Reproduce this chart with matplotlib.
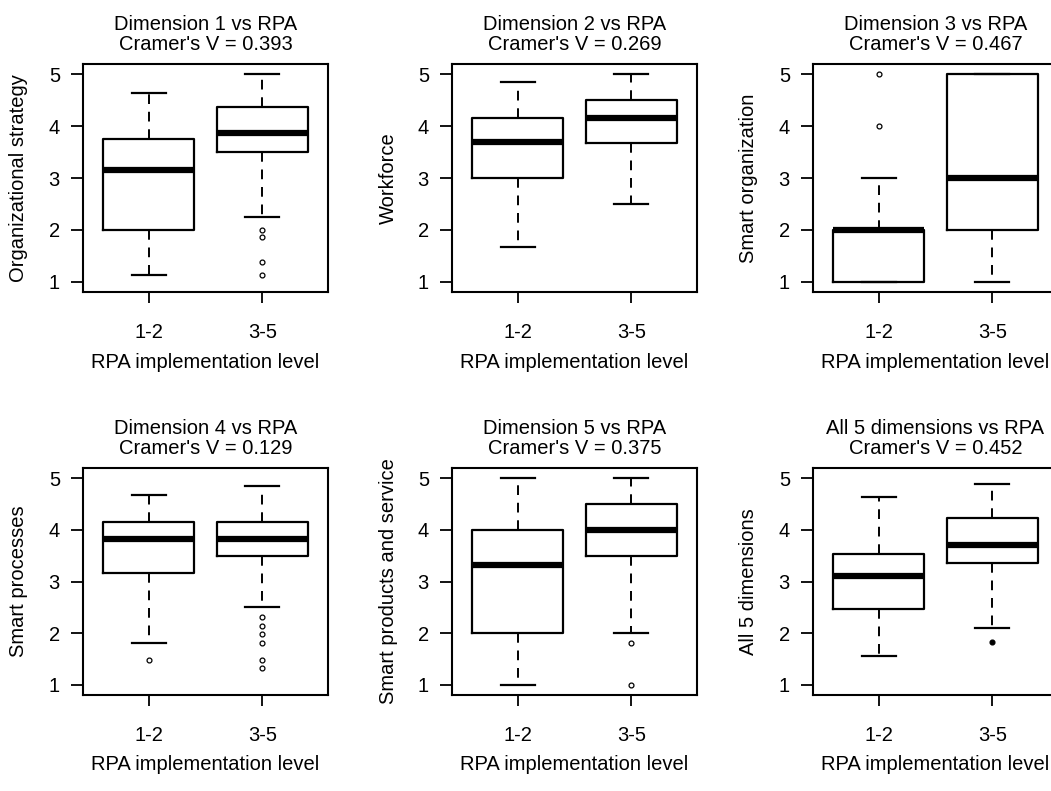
import numpy as np
import matplotlib

matplotlib.use("Agg")
import matplotlib.pyplot as plt

plt.rcParams["font.family"] = ["Liberation Sans", "DejaVu Sans"]

# ---- data ----
titles = ["Dimension 1 vs RPA", "Dimension 2 vs RPA", "Dimension 3 vs RPA",
          "Dimension 4 vs RPA", "Dimension 5 vs RPA", "All 5 dimensions vs RPA"]
cramers_v = [0.393, 0.269, 0.467, 0.129, 0.375, 0.452]
ylabels = ["Organizational strategy", "Workforce", "Smart organization",
           "Smart processes", "Smart products and service", "All 5 dimensions"]
groups = ["1-2", "3-5"]
xlabel = "RPA implementation level"

# per panel: [group 1-2, group 3-5]
whislo = [[1.12, 2.25], [1.66, 2.50], [1.00, 1.00],
          [1.81, 2.50], [1.00, 2.00], [1.56, 2.10]]
q1 = [[2.00, 3.50], [3.00, 3.68], [1.00, 2.00],
      [3.17, 3.50], [2.00, 3.50], [2.47, 3.36]]
med = [[3.15, 3.87], [3.69, 4.16], [2.00, 3.00],
       [3.82, 3.82], [3.32, 4.00], [3.10, 3.71]]
q3 = [[3.76, 4.375], [4.16, 4.50], [2.00, 5.00],
      [4.16, 4.16], [4.00, 4.50], [3.53, 4.24]]
whishi = [[4.64, 5.00], [4.86, 5.00], [3.00, 5.00],
          [4.68, 4.85], [5.00, 5.00], [4.63, 4.89]]
fliers = [[[], [2.00, 1.86, 1.375, 1.12]],
          [[], []],
          [[5.00, 4.00], []],
          [[1.47], [2.31, 2.14, 1.99, 1.81, 1.48, 1.33]],
          [[], [1.81, 1.00]],
          [[], [1.82]]]
# the single outlier in the last panel is drawn solid (overplotted points)
filled_fliers = [False, False, False, False, False, True]

# ---- layout in pixels (figure 1051 x 791) ----
W, H = 1051, 791
rows_px = [(64, 292), (468, 695)]
cols_px = [(83, 328), (452, 697), (813, 1058)]
FS = 14.5

fig = plt.figure(figsize=(W / 100, H / 100), dpi=100)

for k in range(6):
    r, c = divmod(k, 3)
    top, bot = rows_px[r]
    left, right = cols_px[c]
    ax = fig.add_axes([left / W, 1 - bot / H, (right - left) / W, (bot - top) / H])

    stats = []
    for g in range(2):
        stats.append(dict(med=med[k][g], q1=q1[k][g], q3=q3[k][g],
                          whislo=whislo[k][g], whishi=whishi[k][g],
                          fliers=fliers[k][g], label=groups[g]))
    face = "black" if filled_fliers[k] else "none"
    ax.bxp(stats, positions=[1, 2], widths=0.8, capwidths=0.3,
           boxprops=dict(color="black", linewidth=1.6),
           medianprops=dict(color="black", linewidth=4.5, solid_capstyle="butt"),
           whiskerprops=dict(color="black", linewidth=1.4, linestyle=(0, (5, 4))),
           capprops=dict(color="black", linewidth=1.6),
           flierprops=dict(marker="o", markersize=3.5, markerfacecolor=face,
                           markeredgecolor="black", markeredgewidth=0.9))

    ax.set_xlim(0.42, 2.58)
    ax.set_ylim(0.8, 5.2)
    ax.set_yticks([1, 2, 3, 4, 5])
    ax.set_xticks([1, 2], groups)
    ax.tick_params(axis="y", length=8.6, width=1.3, pad=8, labelsize=FS)
    ax.tick_params(axis="x", length=8, width=1.3, pad=14, labelsize=FS)
    for sp in ax.spines.values():
        sp.set_linewidth(1.5)

    ax.set_title(f"{titles[k]}\nCramer's V = {cramers_v[k]:.3f}",
                 fontsize=FS, pad=10, linespacing=1.1)
    ax.set_xlabel(xlabel, fontsize=FS, va="center")
    ax.xaxis.set_label_coords(0.5, -70 / (bot - top))
    ax.set_ylabel(ylabels[k], fontsize=FS, va="center")
    ax.yaxis.set_label_coords(-64 / (right - left), 0.5)

fig.savefig("out.png", dpi=100)
